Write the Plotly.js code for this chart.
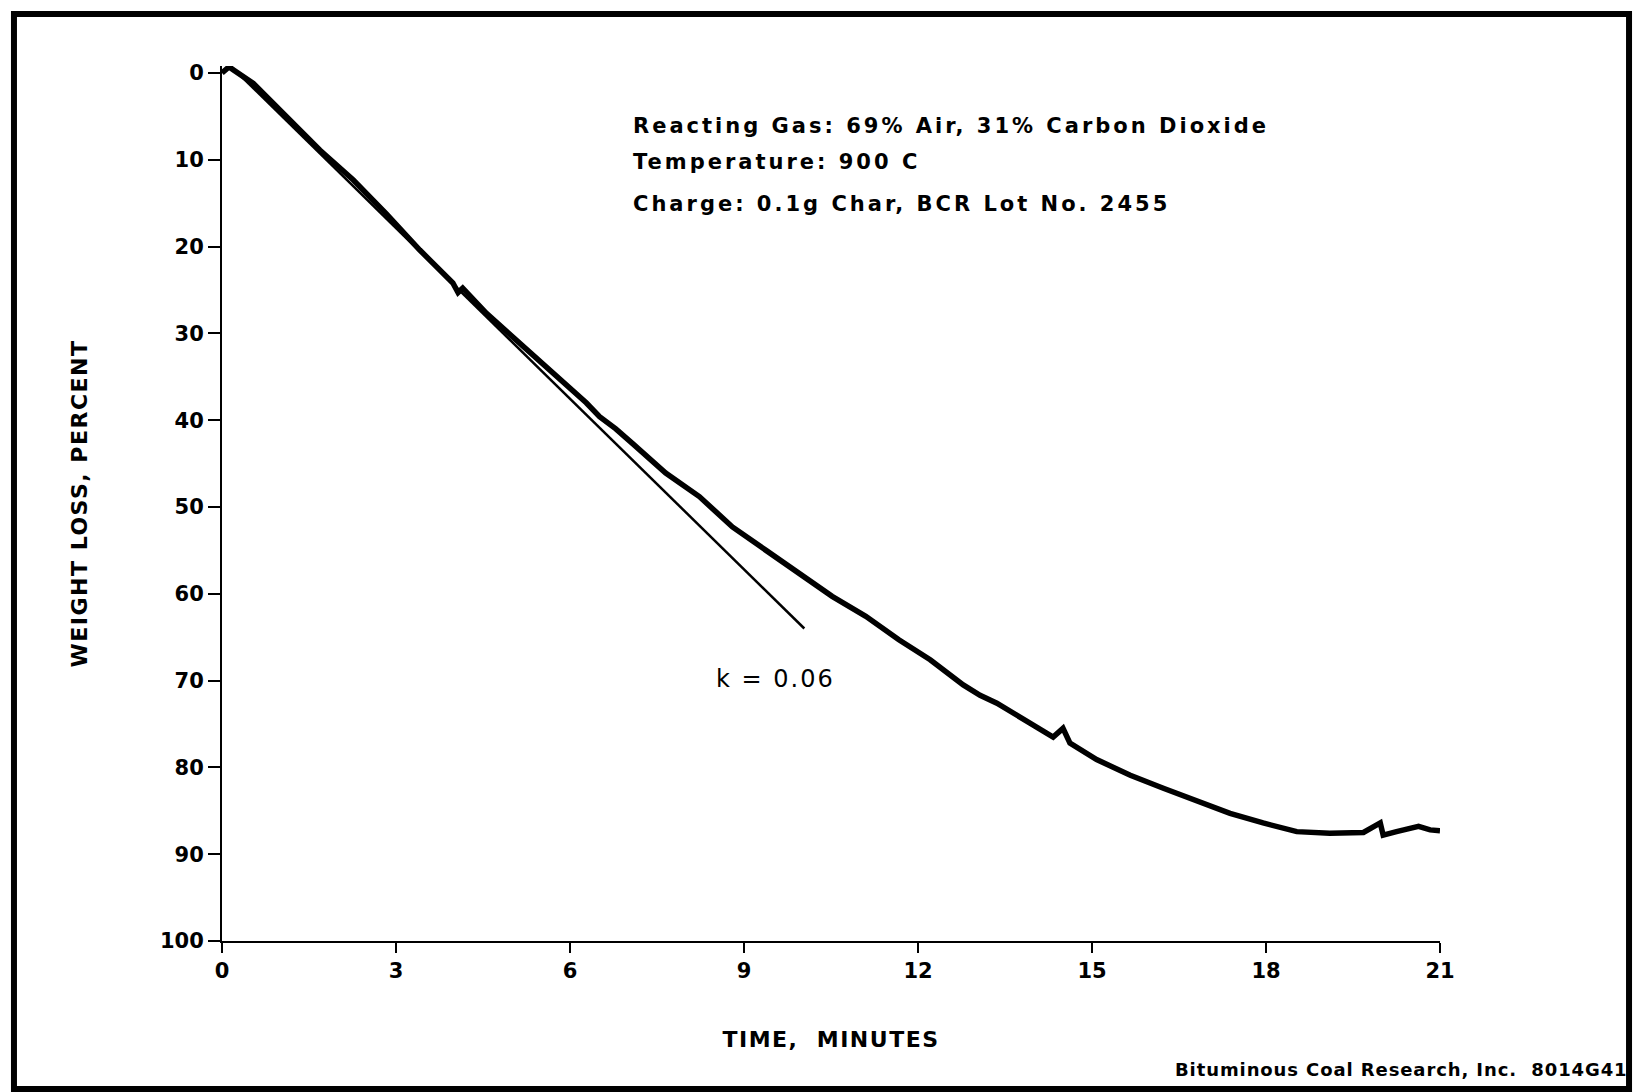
<!DOCTYPE html>
<html>
<head>
<meta charset="utf-8">
<script src="https://cdn.plot.ly/plotly-3.0.1.min.js"></script>
<style>
  html, body { margin: 0; padding: 0; background: #ffffff; }
  #chart { width: 1634px; height: 1092px; }
</style>
</head>
<body>
<div id="chart"></div>
<script>
// ---- data ----
const timeMin = [0.0, 0.12, 0.54, 1.11, 1.69, 2.26, 2.83, 3.41, 3.98, 4.07, 4.15, 4.56, 5.13, 5.70, 6.28, 6.51, 6.79, 7.08, 7.65, 8.23, 8.80, 9.38, 9.95, 10.52, 11.10, 11.67, 12.21, 12.49, 12.78, 13.07, 13.36, 13.93, 14.33, 14.50, 14.62, 15.08, 15.66, 16.23, 16.80, 17.38, 17.95, 18.53, 19.10, 19.68, 19.97, 20.02, 20.25, 20.63, 20.83, 21.0];
const weightLoss = [0.0, -0.7, 1.2, 5.0, 8.9, 12.3, 16.2, 20.4, 24.2, 25.3, 24.8, 27.7, 31.1, 34.6, 38.0, 39.6, 41.0, 42.7, 46.1, 48.8, 52.3, 55.0, 57.6, 60.3, 62.6, 65.3, 67.6, 69.0, 70.5, 71.7, 72.6, 74.9, 76.5, 75.5, 77.2, 79.1, 80.9, 82.4, 83.8, 85.3, 86.4, 87.4, 87.6, 87.5, 86.4, 87.8, 87.4, 86.8, 87.2, 87.3];

const fitTime = [0.15, 10.04];
const fitLoss = [-0.8, 64.0];

const xTicks = [0, 3, 6, 9, 12, 15, 18, 21];
const yTicks = [0, 10, 20, 30, 40, 50, 60, 70, 80, 90, 100];

const infoLines = [
  "Reacting Gas: 69% Air, 31% Carbon Dioxide",
  "Temperature: 900 C",
  "Charge: 0.1g Char, BCR Lot No. 2455"
];
const slopeLabel = "k = 0.06";
const creditLabel = "Bituminous Coal Research, Inc.  8014G41";
const xTitle = "TIME,  MINUTES";
const yTitle = "WEIGHT LOSS, PERCENT";

// ---- drawing ----
const FONT = "DejaVu Sans, sans-serif";
const sp = (t, px) => '<span style="letter-spacing:' + px + 'px">' + t + '</span>';

const traces = [
  {
    x: timeMin, y: weightLoss, type: 'scatter', mode: 'lines',
    line: { color: '#000000', width: 5.5 }, hoverinfo: 'skip', showlegend: false
  },
  {
    x: fitTime, y: fitLoss, type: 'scatter', mode: 'lines',
    line: { color: '#000000', width: 2.5 }, hoverinfo: 'skip', showlegend: false
  }
];

const infoY = [6.1, 10.3, 15.1];
const annotations = infoLines.map((t, i) => ({
  text: sp(t, 3), xref: 'x', yref: 'y', x: 7.05, y: infoY[i],
  xanchor: 'left', yanchor: 'middle', showarrow: false, align: 'left',
  font: { family: FONT, size: 21, color: '#000000', weight: 'bold' }
}));
annotations.push({
  text: sp(slopeLabel, 2), xref: 'x', yref: 'y', x: 9.55, y: 69.8,
  xanchor: 'center', yanchor: 'middle', showarrow: false,
  font: { family: FONT, size: 24, color: '#000000' }
});
annotations.push({
  text: sp(creditLabel, 0.9), xref: 'paper', yref: 'paper', x: 1.1560, y: -0.1474,
  xanchor: 'right', yanchor: 'middle', showarrow: false, align: 'right',
  font: { family: FONT, size: 18, color: '#000000', weight: 'bold' }
});

const layout = {
  width: 1634, height: 1092,
  margin: { l: 222, r: 194, t: 66, b: 151, pad: 0 },
  paper_bgcolor: '#ffffff', plot_bgcolor: '#ffffff',
  showlegend: false,
  font: { family: FONT, color: '#000000' },
  xaxis: {
    range: [0, 21], tickvals: xTicks, ticktext: xTicks.map(String),
    showline: true, linecolor: '#000000', linewidth: 2,
    ticks: 'outside', ticklen: 10, tickwidth: 2, tickcolor: '#000000',
    showgrid: false, zeroline: false,
    tickfont: { family: FONT, size: 21, color: '#000000', weight: 'bold' },
    title: { text: sp(xTitle, 1.5), font: { family: FONT, size: 22, color: '#000000', weight: 'bold' }, standoff: 49 }
  },
  yaxis: {
    range: [100, -0.8], tickvals: yTicks, ticktext: yTicks.map(String),
    showline: true, linecolor: '#000000', linewidth: 2,
    ticks: 'outside', ticklen: 12, tickwidth: 2, tickcolor: '#000000',
    showgrid: false, zeroline: false,
    tickfont: { family: FONT, size: 21, color: '#000000', weight: 'bold' },
    title: { text: sp(yTitle, 1.5), font: { family: FONT, size: 22, color: '#000000', weight: 'bold' }, standoff: 66 }
  },
  annotations: annotations,
  shapes: [{
    type: 'rect', xref: 'paper', yref: 'paper',
    x0: -0.1708, x1: 1.1552, y0: -0.1691, y1: 1.0594,
    line: { color: '#000000', width: 6 }, fillcolor: 'rgba(0,0,0,0)'
  }]
};

Plotly.newPlot('chart', traces, layout, { staticPlot: true, displayModeBar: false });
</script>
</body>
</html>
